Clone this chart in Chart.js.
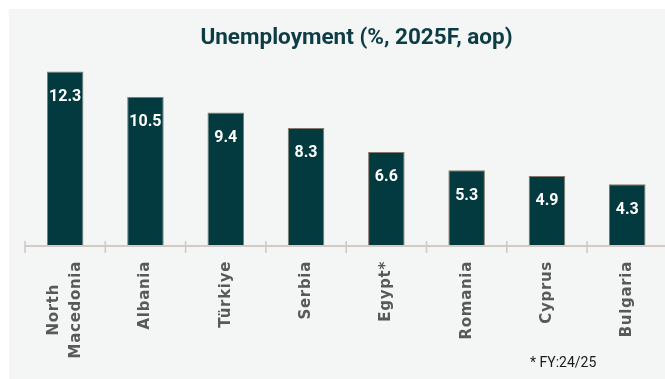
<!DOCTYPE html>
<html>
<head>
<meta charset="utf-8">
<script src="https://cdn.jsdelivr.net/npm/chart.js@4.4.1/dist/chart.umd.min.js"></script>
<style>
  html, body { margin: 0; padding: 0; background: #ffffff; overflow: hidden; }
  #panel { position: absolute; left: 9px; top: 9px; right: 0; bottom: 0; background: #f4f6f6; }
  #chart { position: absolute; left: 0; top: 0; }
</style>
</head>
<body>
<div id="panel"></div>
<canvas id="chart" width="668" height="379"></canvas>
<script>
const chartTitle = 'Unemployment (%, 2025F, aop)';
const footnote = '* FY:24/25';
const categories = [['North', 'Macedonia'], 'Albania', 'Türkiye', 'Serbia', 'Egypt*', 'Romania', 'Cyprus', 'Bulgaria'];
const unemployment = [12.3, 10.5, 9.4, 8.3, 6.6, 5.3, 4.9, 4.3];

const barColor = '#023a40';
const axisColor = '#d3cac6';

// title, value labels, axis line, tick marks, rotated category labels, footnote
const decorations = {
    id: 'decorations',
    afterDatasetsDraw(chart) {
        const ctx = chart.ctx;
        const x = chart.scales.x;
        const area = chart.chartArea;
        const meta = chart.getDatasetMeta(0);

        ctx.save();

        // title
        ctx.fillStyle = '#0c3c44';
        ctx.font = 'bold 22.5px Roboto';
        ctx.textAlign = 'center';
        ctx.textBaseline = 'alphabetic';
        ctx.fillText(chartTitle, 356.5, 43.5);

        // values inside bars
        ctx.fillStyle = '#ffffff';
        ctx.font = 'bold 16px Roboto';
        meta.data.forEach((bar, i) => {
            ctx.fillText(unemployment[i].toFixed(1), bar.x, bar.y + 29.4);
        });

        // axis line
        ctx.strokeStyle = axisColor;
        ctx.lineWidth = 2;
        ctx.beginPath();
        ctx.moveTo(area.left, area.bottom + 1);
        ctx.lineTo(area.right, area.bottom + 1);
        ctx.stroke();

        // tick marks between categories
        ctx.lineWidth = 1.6;
        for (let i = 0; i <= categories.length; i++) {
            const px = x.getPixelForValue(i - 0.5);
            ctx.beginPath();
            ctx.moveTo(px, area.bottom - 4);
            ctx.lineTo(px, area.bottom + 8);
            ctx.stroke();
        }

        // category labels, rotated
        ctx.fillStyle = '#595959';
        ctx.font = 'bold 15px "DejaVu Sans"';
        ctx.letterSpacing = '0.7px';
        ctx.textBaseline = 'middle';
        ctx.textAlign = 'center';
        categories.forEach((label, i) => {
            const lines = Array.isArray(label) ? label : [label];
            const widths = lines.map(l => ctx.measureText(l).width);
            const maxW = Math.max(...widths);
            const cx = x.getPixelForValue(i);
            ctx.save();
            ctx.translate(cx, 261);
            ctx.rotate(-Math.PI / 2);
            lines.forEach((l, j) => {
                const off = (j - (lines.length - 1) / 2) * 21.4;
                ctx.fillText(l, -maxW / 2, off);
            });
            ctx.restore();
        });
        ctx.letterSpacing = '0px';

        // footnote
        ctx.fillStyle = '#1a1a1a';
        ctx.font = '14px Roboto';
        ctx.textAlign = 'left';
        ctx.textBaseline = 'alphabetic';
        ctx.fillText(footnote, 530, 366.7);

        ctx.restore();
    }
};

new Chart(document.getElementById('chart'), {
    type: 'bar',
    data: {
        labels: categories,
        datasets: [{
            data: unemployment,
            backgroundColor: barColor,
            borderColor: '#857b6c',
            borderWidth: 1,
            borderSkipped: 'bottom',
            categoryPercentage: 1,
            barPercentage: 0.455
        }]
    },
    options: {
        responsive: false,
        animation: false,
        layout: {
            padding: { left: 25, right: 0.6, top: 54.6, bottom: 134 }
        },
        plugins: {
            legend: { display: false },
            title: { display: false },
            tooltip: { enabled: false }
        },
        scales: {
            x: { display: false },
            y: { display: false, min: 0, max: 13.5 }
        }
    },
    plugins: [decorations]
});
</script>
</body>
</html>
